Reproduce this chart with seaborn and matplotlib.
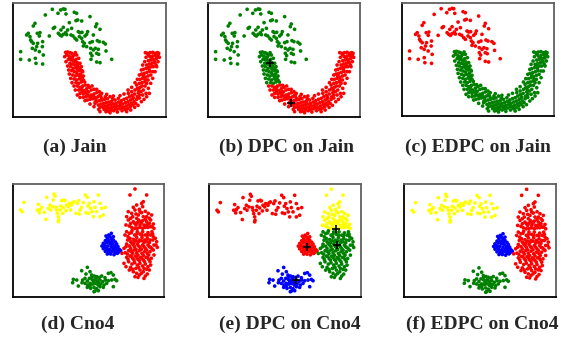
import numpy as np
import pandas as pd
import matplotlib
matplotlib.use("Agg")
import matplotlib.pyplot as plt
import seaborn as sns

# ---------------- Jain data (image-read coordinates) ----------------
jain_upper = [(157,28),(182,30),(190,27),(195,28),(174,40),(136,45),(198,42),(223,37),(230,40),(270,50),
 (228,62),(233,60),(245,63),(208,68),(160,85),(164,82),(190,82),(183,90),(105,70),(100,78),(290,72),(287,80),
 (300,88),(203,90),(197,98),(200,104),(180,105),(175,100),(190,103),(185,108),(148,108),(213,105),(219,108),
 (225,115),(240,98),(246,97),(238,110),(255,108),(260,103),(263,95),(85,100),(90,110),(80,105),(112,100),
 (118,108),(120,98),(95,125),(100,130),(110,140),(128,125),(127,140),(106,150),(118,155),(62,155),(62,178),
 (88,180),(106,175),(108,190),(130,165),(128,192),(248,125),(253,130),(270,128),(277,125),(292,122),(298,125),
 (310,127),(316,132),(272,145),(280,150),(286,145),(295,148),(318,153),(272,160),(276,167),(290,160),(296,163),
 (273,178),(290,186),(300,188),(335,178),(260,140),(245,115),(250,138),(230,120),(280,105),(235,95),(215,85),
 (97,145),(92,120),(113,130)]
jain_lower_left = [(197,157),(203,156),(210,158),(215,160),(200,165),(207,168),(218,170),(222,165),(205,178),
 (213,180),(220,182),(228,178),(210,190),(218,192),(225,195),(232,188),(212,200),(220,205),(228,203),(235,200),
 (215,212),(223,215),(230,218),(238,212),(218,225),(226,228),(234,225),(242,222),(222,237),(230,240),(238,236),
 (246,233),(228,248),(236,250),(244,246),(250,240),(216,175),(232,208),(240,228),(224,185),
 (194,170),(198,185),(203,198),(206,210),(208,222),(212,235),(216,248),(244,240),(250,228),(248,215),
 (244,200),(240,190),(236,175),(230,165),(226,158),(246,212),(240,205),(254,246),(232,196),(210,172)]
jain_lower_rest = [(232,258),(240,262),(248,258),(256,255),(236,270),(244,268),(252,272),(260,266),(268,262),
 (240,280),(250,282),(258,278),(266,276),(274,270),(282,268),(250,292),(258,290),(266,288),(274,285),(282,282),
 (290,278),(298,275),(262,300),(270,298),(278,296),(286,293),(294,290),(302,288),(246,275),(262,285),(272,290),
 (280,288),(290,305),(298,302),(306,300),(314,298),(322,296),(295,315),(303,312),(311,310),(319,308),(327,306),
 (335,304),(300,322),(308,320),(316,318),(324,316),(332,314),(340,312),(312,328),(320,326),(328,324),(336,322),
 (344,320),(352,318),(325,333),(333,330),(341,332),(350,328),(358,326),(366,322),(348,310),(356,306),(364,302),
 (372,298),(380,295),(345,300),(355,295),(360,316),(368,312),(376,308),(384,305),(392,300),(370,322),(378,318),
 (386,314),(394,310),(402,305),(375,328),(383,325),(391,320),(399,315),(407,310),(388,290),(396,286),(404,282),
 (412,290),(410,298),(418,294),(385,280),(395,275),(338,296),(316,290),(330,290),(305,295),(288,296),(300,285),
 (285,310),(296,328),(318,335),(405,270),(412,265),(420,262),(415,278),(423,275),(430,270),(410,255),(418,250),
 (426,248),(434,245),(420,238),(428,235),(436,232),(444,228),(425,222),(433,220),(441,217),(449,214),(430,208),
 (438,205),(446,202),(454,200),(435,258),(440,250),(428,285),(418,285),(400,293),(440,195),(448,192),(456,190),
 (464,188),(445,182),(453,180),(461,178),(469,176),(450,170),(458,168),(466,166),(474,165),(442,160),(450,158),
 (458,157),(466,160),(472,158),(476,160),(455,175),(463,185),(470,172),(447,207),(460,200),(468,195),(438,172),
 (445,165),(430,228),(437,240),
 (222,258),(226,270),(232,285),(264,256),(276,258),(240,292),(255,302),(270,312),(282,320),(300,335),(330,338),
 (352,336),(366,332),(380,335),(392,330),(404,322),(414,316),(424,305),(432,298),(440,290),(448,280),
 (290,268),(305,280),(320,283),(340,288),(360,287),(372,282),(384,270),(395,262),(405,248),(412,238),(418,225),
 (424,210),(428,195),(470,200),(465,215),(458,235),(452,250),(445,265),(438,280),(478,172),(474,185),(434,185),
 (436,158),(458,215),(452,225),(444,240),(246,262),(262,275),(286,305),(310,322),(346,325),(362,310),(398,296),
 (416,270),(426,258)]
jain_centers_dpc = [(226,190),(290,310)]

# ---------------- Cno4 data (image-read coordinates) ----------------
cno_spread = [(62,120),(66,125),(72,97),(115,103),(120,118),(118,128),(112,120),(133,127),(140,82),(138,148),
 (145,115),(152,120),(158,110),(160,90),(162,72),(165,78),(168,112),(170,120),(172,130),(175,140),(176,150),
 (180,120),(182,108),(185,92),(188,130),(190,113),(192,90),(195,92),(200,105),(205,110),(208,100),(212,120),
 (215,105),(218,98),(222,95),(228,130),(232,100),(236,92),(238,132),(245,112),(250,98),(256,75),(258,128),
 (262,82),(264,108),(268,100),(272,115),(276,125),(280,140),(285,112),(290,125),(295,75),(300,100),(305,115),
 (310,135),(316,112),(175,155),(125,112),(150,105),(198,122),(240,120),(265,130),(282,95),(300,140)]
cno_blob = [(326,195),(330,200),(322,205),(334,206),(340,210),(316,212),(326,212),(346,216),(310,220),(320,218),
 (330,220),(338,222),(350,222),(306,228),(314,226),(324,228),(334,230),(344,228),(354,230),(310,236),(320,236),
 (330,238),(340,236),(350,240),(358,238),(316,244),(326,246),(336,244),(346,248),(322,252),(332,252),(342,254),
 (352,250),(328,216),(318,230),(336,214),(312,230),(342,242),(324,240),(348,234),(356,246),(362,242),(340,200),
 (318,198),(334,190)]
cno_right_top = [(405,57),(390,75),(440,75),(430,95),(425,100),(410,105),(400,112),(385,125),(395,130),(405,120),
 (418,118),(428,110),(436,124),(445,130),(455,135),(380,140),(415,135),(425,128),(440,140),(398,140),(410,145),
 (385,150),(392,160),(400,155),(408,165),(416,150),(424,158),(432,165),(440,155),(448,160),(456,170),(395,172),
 (412,175),(428,175),(444,172),(462,175),(378,165),(420,165),(436,148),
 (388,168),(404,160),(420,155),(440,165),(452,150),(392,145),(430,140),(448,145),(420,125),(408,132),
 (404,175),(420,172),(436,172),(452,170),(428,152),(412,158),(446,162),(460,162)]
cno_right_rest = [(380,185),(388,190),(396,182),(404,195),(412,185),(420,192),(428,185),(436,195),(444,188),
 (452,195),(460,200),(470,215),(390,205),(400,208),(410,202),(418,210),(426,202),(434,210),(442,205),(450,210),
 (384,200),(456,185),(372,235),(380,222),(388,228),(396,220),(404,230),(412,222),(420,232),(428,225),(436,235),
 (444,225),(452,232),(472,232),(376,248),(386,242),(394,245),(402,240),(410,248),(418,242),(426,250),(434,245),
 (442,250),(450,245),(460,240),(416,215),(432,218),(462,225),(380,262),(390,258),(398,265),(406,258),(414,268),
 (422,262),(430,270),(438,262),(446,268),(454,265),(372,280),(386,275),(396,282),(404,278),(412,285),(420,280),
 (428,288),(436,282),(444,290),(452,285),(392,292),(408,295),(400,305),(410,310),(420,300),(430,305),(440,298),
 (405,320),(432,325),(448,300),(418,315),(442,312),
 (375,195),(383,210),(392,215),(402,218),(408,212),(424,212),(440,215),(448,218),(458,210),(466,205),
 (378,230),(392,235),(408,238),(424,238),(440,240),(456,236),(468,225),(382,252),(398,250),(414,255),
 (430,256),(446,255),(462,255),(384,268),(402,270),(418,272),(434,275),(450,275),(378,290),(398,298),
 (416,292),(432,295),(388,300),(424,310),(436,318),(414,322),(394,188),(410,192),(426,195),(442,196),
 (458,192),(400,225),(416,228),(432,230),(448,230),(394,258),(410,262),(426,265),(442,262),(366,250)]
cno_bottom = [(262,292),(245,302),(270,305),(258,312),(275,315),(283,318),(290,320),(298,322),(305,318),(325,310),
 (333,308),(340,315),(345,328),(220,328),(218,338),(235,348),(248,330),(255,325),(262,333),(268,325),(276,328),
 (284,330),(292,332),(300,330),(308,335),(316,330),(325,332),(335,330),(350,332),(255,340),(263,345),(270,340),
 (278,342),(286,340),(294,345),(302,342),(312,345),(320,340),(340,350),(262,352),(272,355),(282,352),(290,356),
 (300,350),(285,363),(295,362),(282,365),(276,320),(288,325),(280,335),(295,338),(270,348),(246,338),(315,323),
 (230,330),(310,352)]
cno_centers_dpc = [(419,176),(423,224),(332,230),(298,331)]

titles = ["(a) Jain", "(b) DPC on Jain", "(c) EDPC on Jain",
          "(d) Cno4", "(e) DPC on Cno4", "(f) EDPC on Cno4"]

# group -> colour per panel
jain_groups = {"upper": jain_upper, "lower_left": jain_lower_left, "lower_rest": jain_lower_rest}
jain_colors = [
    {"upper": "green", "lower_left": "red", "lower_rest": "red"},
    {"upper": "green", "lower_left": "green", "lower_rest": "red"},
    {"upper": "red", "lower_left": "green", "lower_rest": "green"},
]
cno_groups = {"spread": cno_spread, "blob": cno_blob, "right_top": cno_right_top,
              "right_rest": cno_right_rest, "bottom": cno_bottom}
cno_colors = [
    {"spread": "yellow", "blob": "blue", "right_top": "red", "right_rest": "red", "bottom": "green"},
    {"spread": "red", "blob": "red", "right_top": "yellow", "right_rest": "green", "bottom": "blue"},
    {"spread": "yellow", "blob": "blue", "right_top": "red", "right_rest": "red", "bottom": "green"},
]
palette = {"red": "#ff0000", "green": "#008000", "blue": "#0000ff", "yellow": "#ffff00"}


def frame(groups, colors):
    rows = []
    for g, pts in groups.items():
        for x, y in pts:
            rows.append((x, y, colors[g]))
    return pd.DataFrame(rows, columns=["x", "y", "c"])


sns.set_style("white")
W, H = 572, 347
fig = plt.figure(figsize=(W / 100, H / 100), dpi=100)

# axes boxes in pixels: left, right, top, bottom
boxes = [(13.3, 165.7, 3.3, 116.7), (208.3, 360, 3.3, 116.7), (402.3, 554, 2.7, 116),
         (12.7, 164.3, 184, 296.7), (209, 360.7, 184.3, 296.7), (404.3, 556, 184.3, 297.3)]
title_pos = [(75, 147), (286.5, 147), (478, 147), (78, 324), (290, 324), (482.5, 324)]

for i in range(6):
    l, r, t, b = boxes[i]
    ax = fig.add_axes([l / W, 1 - b / H, (r - l) / W, (b - t) / H])
    if i < 3:
        df = frame(jain_groups, jain_colors[i])
        xlim, ylim = (40, 497), (350, 10)
        centers = jain_centers_dpc if i == 1 else []
    else:
        df = frame(cno_groups, cno_colors[i - 3])
        xlim, ylim = (38, 493), (380, 42)
        centers = cno_centers_dpc if i == 4 else []
    sns.scatterplot(data=df, x="x", y="y", hue="c", palette=palette, s=7,
                    linewidth=0, legend=False, ax=ax)
    if centers:
        cdf = pd.DataFrame(centers, columns=["x", "y"])
        sns.scatterplot(data=cdf, x="x", y="y", marker="+", color="black", s=40,
                        linewidth=1.2, legend=False, ax=ax)
    ax.set_xlim(*xlim)
    ax.set_ylim(*ylim)
    ax.set_xticks([])
    ax.set_yticks([])
    ax.set_xlabel("")
    ax.set_ylabel("")
    for side in ["left", "bottom"]:
        ax.spines[side].set_color("black")
        ax.spines[side].set_linewidth(1.3)
    for side in ["top", "right"]:
        ax.spines[side].set_color("#606060")
        ax.spines[side].set_linewidth(1.3)
    tx, ty = title_pos[i]
    fig.text(tx / W, 1 - ty / H, titles[i], ha="center", va="center",
             fontsize=14, fontweight="bold", family=["Liberation Serif", "DejaVu Serif"])

fig.savefig("out.png", dpi=100, facecolor="white")
